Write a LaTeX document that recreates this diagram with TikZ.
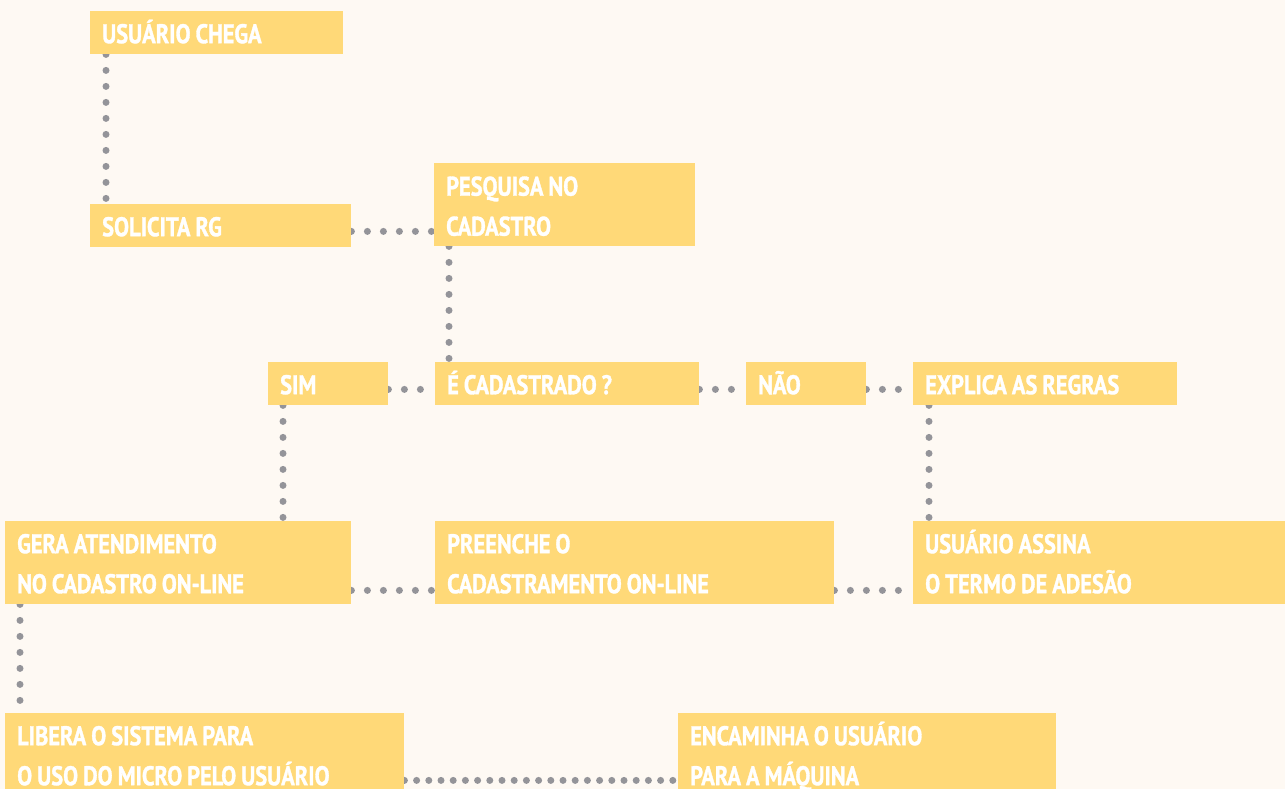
\documentclass[tikz,border=0pt]{standalone}
\usepackage{fontspec}
\newfontfamily\boxfont{PT Sans}[FakeStretch=0.83, BoldFeatures={FakeBold=1.2}]
\newcommand\myboxfont{\boxfont\bfseries\fontsize{27}{40}\selectfont}
\usetikzlibrary{backgrounds}
\definecolor{bgc}{HTML}{FEF9F3}
\definecolor{boxc}{HTML}{FFD978}
\definecolor{dotc}{HTML}{949499}
\tikzset{
  stepbox/.style={fill=boxc, text=white, anchor=north west, inner xsep=12pt, inner ysep=0pt,
    align=left, font=\myboxfont, text height=32pt,
    execute at begin node={\spaceskip=5pt\relax\xspaceskip=5pt\relax}},
  one/.style={stepbox, text depth=11pt, minimum height=43pt},
  two/.style={stepbox, text depth=51pt, minimum height=83pt},
  conn/.style={draw=dotc, line width=7pt, line cap=round, dash pattern=on 0pt off 16pt},
  connb/.style={conn, dash pattern=on 0pt off 12.2pt},
}
\begin{document}
\begin{tikzpicture}[x=1pt,y=-1pt]
\begin{scope}[on background layer]
\fill[bgc] (0,0) rectangle (1285,789);
\end{scope}
\useasboundingbox (0,0) rectangle (1285,789);
\clip (0,0) rectangle (1285,789);

\node[one, minimum width=253pt, text width=229pt] (chega) at (90,11) {USUÁRIO CHEGA};
\node[one, minimum width=261pt, text width=237pt] (solicita) at (90,204) {SOLICITA RG};
\node[two, minimum width=261pt, text width=237pt, text depth=50pt] (pesquisa) at (434,163) {PESQUISA NO\\CADASTRO};
\node[one, minimum width=120pt, text width=96pt] (sim) at (268,362) {SIM};
\node[one, minimum width=264pt, text width=240pt, inner xsep=9pt] (ecad) at (435,362) {É CADASTRADO ?};
\node[one, minimum width=120pt, text width=96pt, inner xsep=10pt] (nao) at (746,362) {NÃO};
\node[one, minimum width=264pt, text width=240pt, inner xsep=10pt] (explica) at (913,362) {EXPLICA AS REGRAS};
\node[two, minimum width=346pt, text width=322pt] (gera) at (5,521) {GERA ATENDIMENTO\\NO CADASTRO ON-LINE};
\node[two, minimum width=399pt, text width=375pt, inner xsep=9pt] (preenche) at (435,521) {PREENCHE O\\CADASTRAMENTO ON-LINE};
\node[two, minimum width=372pt, text width=348pt, inner xsep=10pt] (assina) at (913,521) {USUÁRIO ASSINA\\O TERMO DE ADESÃO};
\node[two, minimum width=399pt, text width=375pt] (libera) at (5,713) {LIBERA O SISTEMA PARA\\O USO DO MICRO PELO USUÁRIO};
\node[two, minimum width=378pt, text width=354pt, inner xsep=10pt] (encaminha) at (678,713) {ENCAMINHA O USUÁRIO\\PARA A MÁQUINA};

\begin{scope}[on background layer]
\draw[conn] ([xshift=16pt]chega.south west) -- ([xshift=16pt]chega.south west |- solicita.north);
\draw[conn] ([yshift=16pt]solicita.south east) -- ([yshift=16pt]solicita.south east -| pesquisa.west);
\draw[conn] ([xshift=15pt]pesquisa.south west) -- ([xshift=15pt]pesquisa.south west |- ecad.north);
\draw[conn] ([yshift=16pt]sim.south east) -- ([yshift=16pt]sim.south east -| ecad.west);
\draw[conn] ([yshift=16pt]ecad.south east) -- ([yshift=16pt]ecad.south east -| nao.west);
\draw[conn] ([yshift=16pt]nao.south east) -- ([yshift=16pt]nao.south east -| explica.west);
\draw[conn] ([xshift=16pt]explica.south west) -- ([xshift=16pt]explica.south west |- assina.north);
\draw[conn] ([xshift=15pt]sim.south west) -- ([xshift=15pt]sim.south west |- gera.north);
\draw[conn] ([yshift=14pt]gera.south east) -- ([yshift=14pt]gera.south east -| preenche.west);
\draw[conn] ([yshift=14pt]preenche.south east) -- ([yshift=14pt]preenche.south east -| assina.west);
\draw[conn] ([xshift=15pt]gera.south west) -- ([xshift=15pt]gera.south west |- libera.north);
\draw[connb] ([yshift=16pt]libera.south east) -- ([yshift=16pt]libera.south east -| encaminha.west);
\end{scope}
\end{tikzpicture}
\end{document}
